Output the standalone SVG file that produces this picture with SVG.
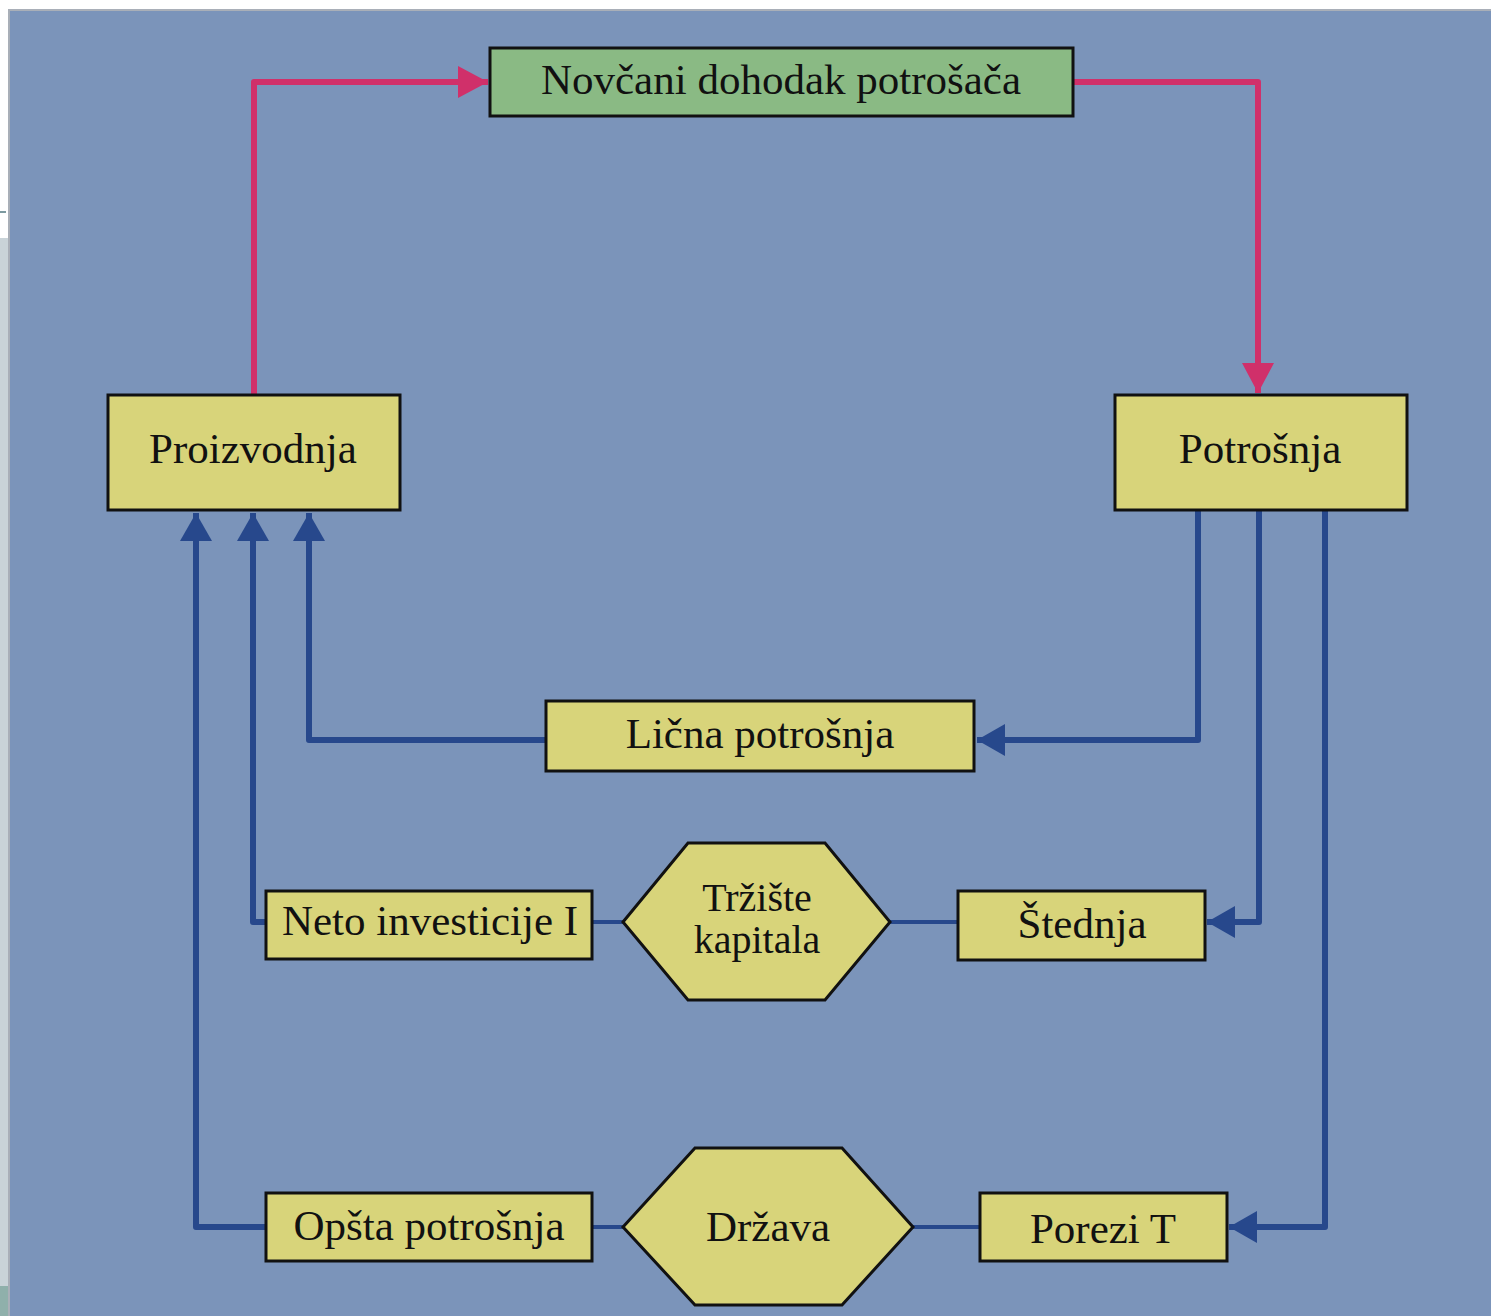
<svg xmlns="http://www.w3.org/2000/svg" width="1491" height="1316" viewBox="0 0 1491 1316">
<defs>
<style>
.box{fill:#d8d47a;stroke:#111;stroke-width:3}
.green{fill:#8aba84;stroke:#111;stroke-width:3}
.t{font-family:"Liberation Serif","Times New Roman",serif;font-size:43px;fill:#111;text-anchor:middle}
.t2{font-size:40px}
.pink{fill:none;stroke:#d0306a;stroke-width:6;stroke-linejoin:round}
.blue{fill:none;stroke:#27488c;stroke-width:6;stroke-linejoin:round}
.thin{fill:none;stroke:#27488c;stroke-width:4}
</style>
<marker id="ap" viewBox="0 0 30 32" refX="30" refY="16" markerWidth="30" markerHeight="32" markerUnits="userSpaceOnUse" orient="auto"><path d="M0,0 L30,16 L0,32 Z" fill="#d0306a"/></marker>
<marker id="ab" viewBox="0 0 28 32" refX="28" refY="16" markerWidth="28" markerHeight="32" markerUnits="userSpaceOnUse" orient="auto"><path d="M0,0 L28,16 L0,32 Z" fill="#27488c"/></marker>
</defs>
<rect x="0" y="0" width="1491" height="1316" fill="#ffffff"/>
<rect x="0" y="238" width="8" height="1048" fill="#c9d3d8"/>
<rect x="0" y="1286" width="8" height="30" fill="#8fb0ab"/>
<rect x="0" y="211" width="6" height="2" fill="#7d9aa0"/>
<rect x="8" y="10" width="1483" height="1306" fill="#7b94ba"/>
<rect x="8" y="9" width="1483" height="2" fill="#a9afb8"/>
<rect x="8" y="10" width="2" height="1306" fill="#a9afb8"/>
<g id="connectors">
<path class="pink" d="M254,395 V82 H488" marker-end="url(#ap)"/>
<path class="pink" d="M1073,82 H1258 V393" marker-end="url(#ap)"/>
<path class="blue" d="M546,740 H309 V513" marker-end="url(#ab)"/>
<path class="blue" d="M266,922 H253 V513" marker-end="url(#ab)"/>
<path class="blue" d="M266,1227 H196 V513" marker-end="url(#ab)"/>
<path class="blue" d="M1198,510 V740 H977" marker-end="url(#ab)"/>
<path class="blue" d="M1259,510 V922 H1207" marker-end="url(#ab)"/>
<path class="blue" d="M1325,510 V1227 H1229" marker-end="url(#ab)"/>
<path class="thin" d="M592,922 H623"/>
<path class="thin" d="M890,922 H958"/>
<path class="thin" d="M592,1227 H623"/>
<path class="thin" d="M913,1227 H980"/>
</g>
<g id="novcani"><rect class="green" x="490" y="48" width="583" height="68"/><text class="t" x="781" y="94">Novčani dohodak potrošača</text></g>
<g id="proizvodnja"><rect class="box" x="108" y="395" width="292" height="115"/><text class="t" x="253" y="463">Proizvodnja</text></g>
<g id="potrosnja"><rect class="box" x="1115" y="395" width="292" height="115"/><text class="t" x="1260" y="463">Potrošnja</text></g>
<g id="licna"><rect class="box" x="546" y="701" width="428" height="70"/><text class="t" x="760" y="748">Lična potrošnja</text></g>
<g id="neto"><rect class="box" x="266" y="891" width="326" height="68"/><text class="t" x="430" y="935">Neto investicije I</text></g>
<g id="trziste"><polygon class="box" points="623,922 688,843 825,843 890,922 825,1000 688,1000"/><text class="t t2" x="757" y="911">Tržište</text><text class="t t2" x="757" y="953">kapitala</text></g>
<g id="stednja"><rect class="box" x="958" y="891" width="247" height="69"/><text class="t" x="1082" y="938">Štednja</text></g>
<g id="opsta"><rect class="box" x="266" y="1193" width="326" height="68"/><text class="t" x="429" y="1240">Opšta potrošnja</text></g>
<g id="drzava"><polygon class="box" points="623,1227 695,1148 842,1148 913,1227 842,1305 695,1305"/><text class="t" x="768" y="1241">Država</text></g>
<g id="porezi"><rect class="box" x="980" y="1193" width="247" height="68"/><text class="t" x="1103" y="1243">Porezi T</text></g>
</svg>
